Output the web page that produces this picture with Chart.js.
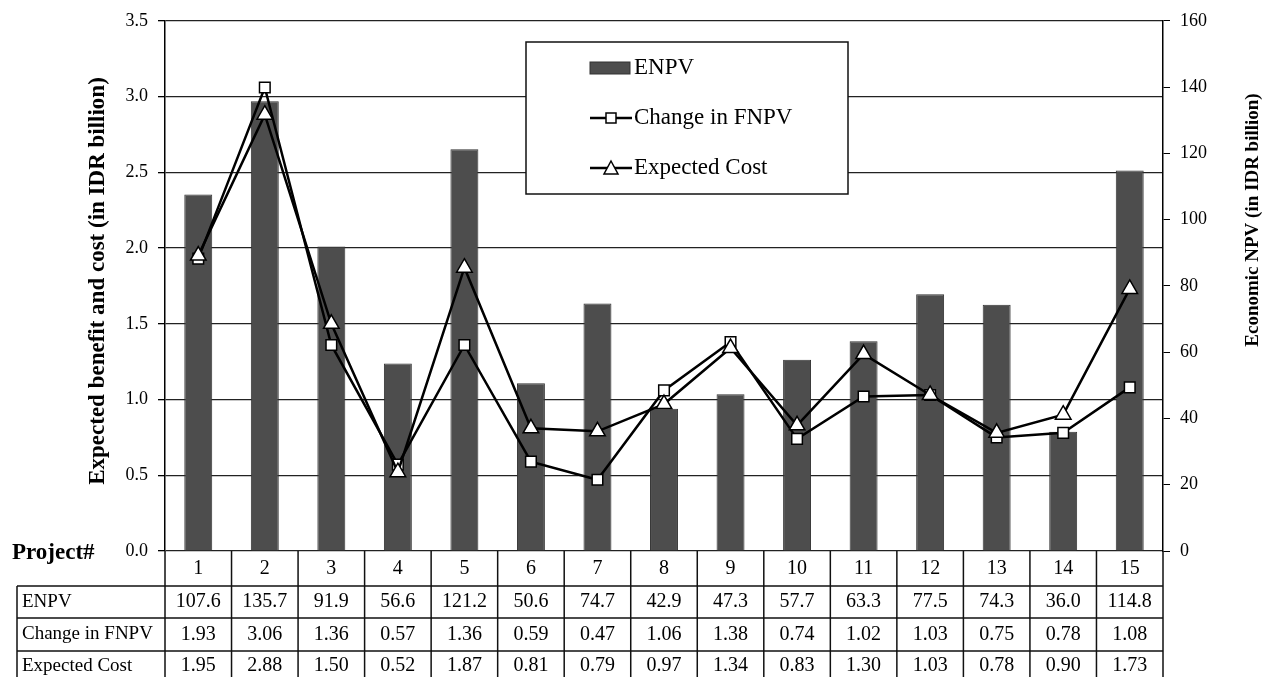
<!DOCTYPE html>
<html lang="en">
<head>
  <meta charset="UTF-8">
  <title>ENPV, Change in FNPV and Expected Cost by Project</title>
  <script src="https://cdn.jsdelivr.net/npm/chart.js"></script>
  <style>
    html, body { margin: 0; padding: 0; background: #fff; }
    #wrap { width: 1273px; height: 677px; position: relative; }
  </style>
</head>
<body>
  <div id="wrap"><canvas id="npvChart"></canvas></div>

  <script>
    // values
    const projects = ['1', '2', '3', '4', '5', '6', '7', '8', '9', '10', '11', '12', '13', '14', '15'];
    const enpv = [107.6, 135.7, 91.9, 56.6, 121.2, 50.6, 74.7, 42.9, 47.3, 57.7, 63.3, 77.5, 74.3, 36.0, 114.8];
    const changeFnpv = [1.93, 3.06, 1.36, 0.57, 1.36, 0.59, 0.47, 1.06, 1.38, 0.74, 1.02, 1.03, 0.75, 0.78, 1.08];
    const expectedCost = [1.95, 2.88, 1.50, 0.52, 1.87, 0.81, 0.79, 0.97, 1.34, 0.83, 1.30, 1.03, 0.78, 0.90, 1.73];
    const tableRows = [
      { label: 'ENPV', values: enpv, fmt: v => v.toFixed(1) },
      { label: 'Change in FNPV', values: changeFnpv, fmt: v => v.toFixed(2) },
      { label: 'Expected Cost', values: expectedCost, fmt: v => v.toFixed(2) }
    ];

    const SERIF = "'Liberation Serif', 'DejaVu Serif', serif";
    Chart.defaults.font.family = SERIF;
    Chart.defaults.color = '#000';

    // titles, legend box and the data table are drawn here
    const extrasPlugin = {
      id: 'extras',
      afterDraw(chart) {
        const ctx = chart.ctx;
        const x = chart.scales.x;
        const area = chart.chartArea;
        const step = (area.right - area.left) / projects.length;
        ctx.save();

        // axis titles
        ctx.fillStyle = '#000';
        ctx.textAlign = 'center';
        ctx.textBaseline = 'middle';
        ctx.font = 'bold 23px ' + SERIF;
        ctx.save();
        ctx.translate(98, 281);
        ctx.rotate(-Math.PI / 2);
        ctx.fillText('Expected benefit and cost (in IDR billion)', 0, 0);
        ctx.restore();
        ctx.font = 'bold 19px ' + SERIF;
        ctx.save();
        ctx.translate(1253, 220);
        ctx.rotate(-Math.PI / 2);
        ctx.fillText('Economic NPV (in IDR billion)', 0, 0);
        ctx.restore();

        // legend
        const lx = 526, ly = 42, lw = 322, lh = 152;
        ctx.fillStyle = '#fff';
        ctx.fillRect(lx, ly, lw, lh);
        ctx.strokeStyle = '#111';
        ctx.lineWidth = 1.5;
        ctx.strokeRect(lx, ly, lw, lh);
        ctx.fillStyle = '#4d4d4d';
        ctx.fillRect(590, 62, 40, 12);
        ctx.strokeStyle = '#333';
        ctx.lineWidth = 1;
        ctx.strokeRect(590, 62, 40, 12);
        ctx.strokeStyle = '#000';
        ctx.lineWidth = 2.5;
        [118, 168].forEach(yy => {
          ctx.beginPath(); ctx.moveTo(590, yy); ctx.lineTo(632, yy); ctx.stroke();
        });
        ctx.lineWidth = 1.5;
        ctx.fillStyle = '#fff';
        ctx.fillRect(606, 113, 10, 10);
        ctx.strokeRect(606, 113, 10, 10);
        ctx.beginPath();
        ctx.moveTo(611, 161); ctx.lineTo(618, 174); ctx.lineTo(604, 174); ctx.closePath();
        ctx.fill(); ctx.stroke();
        ctx.fillStyle = '#000';
        ctx.textAlign = 'left';
        ctx.font = '23px ' + SERIF;
        ctx.fillText('ENPV', 634, 68);
        ctx.fillText('Change in FNPV', 634, 118);
        ctx.fillText('Expected Cost', 634, 168);

        // data table
        const top = area.bottom, rowY = [586, 618, 651], bottom = chart.height;
        ctx.strokeStyle = '#111';
        ctx.lineWidth = 1.5;
        ctx.beginPath();
        for (let i = 0; i <= projects.length; i++) {
          const bx = area.left + i * step;
          ctx.moveTo(bx, top); ctx.lineTo(bx, bottom);
        }
        ctx.moveTo(17, rowY[0]); ctx.lineTo(17, bottom);
        rowY.forEach(yy => { ctx.moveTo(17, yy); ctx.lineTo(area.right, yy); });
        ctx.stroke();

        ctx.font = '20px ' + SERIF;
        ctx.textAlign = 'center';
        projects.forEach((p, i) => ctx.fillText(p, x.getPixelForValue(i), 569));
        const centers = [602, 634.5, 666];
        tableRows.forEach((row, r) => {
          ctx.textAlign = 'left';
          ctx.font = '19px ' + SERIF;
          ctx.fillText(row.label, 22, centers[r]);
          ctx.textAlign = 'center';
          ctx.font = '20px ' + SERIF;
          row.values.forEach((v, i) => ctx.fillText(row.fmt(v), x.getPixelForValue(i), centers[r]));
        });

        ctx.textAlign = 'left';
        ctx.font = 'bold 23px ' + SERIF;
        ctx.fillText('Project#', 12, 553);
        ctx.restore();
      }
    };

    new Chart(document.getElementById('npvChart'), {
      type: 'bar',
      data: {
        labels: projects,
        datasets: [
          {
            type: 'line',
            label: 'Change in FNPV',
            data: changeFnpv,
            yAxisID: 'y',
            borderColor: '#000',
            borderWidth: 2.5,
            pointStyle: 'rect',
            pointRadius: 7.5,
            pointBackgroundColor: '#fff',
            pointBorderColor: '#000',
            pointBorderWidth: 1.5,
            tension: 0,
            order: 1
          },
          {
            type: 'line',
            label: 'Expected Cost',
            data: expectedCost,
            yAxisID: 'y',
            borderColor: '#000',
            borderWidth: 2.5,
            pointStyle: 'triangle',
            pointRadius: 9,
            pointBackgroundColor: '#fff',
            pointBorderColor: '#000',
            pointBorderWidth: 1.5,
            tension: 0,
            order: 0
          },
          {
            label: 'ENPV',
            data: enpv,
            yAxisID: 'y1',
            backgroundColor: '#4d4d4d',
            borderColor: '#333',
            borderWidth: 1,
            barPercentage: 0.42,
            categoryPercentage: 1,
            order: 2
          }
        ]
      },
      options: {
        responsive: true,
        maintainAspectRatio: false,
        animation: false,
        layout: { padding: { left: 80, right: 0, top: 20, bottom: 126 } },
        plugins: { legend: { display: false }, tooltip: { enabled: false } },
        scales: {
          x: { display: false },
          y: {
            position: 'left',
            min: 0,
            max: 3.5,
            ticks: { stepSize: 0.5, padding: 10, font: { size: 18 }, callback: v => v.toFixed(1) },
            grid: { color: '#222', lineWidth: 1.3, tickLength: 7, tickColor: '#000' },
            border: { color: '#000', width: 1.5 },
            afterFit(scale) { scale.width = 85; }
          },
          y1: {
            position: 'right',
            min: 0,
            max: 160,
            ticks: { stepSize: 20, padding: 10, font: { size: 18 } },
            grid: { drawOnChartArea: false, tickLength: 7, tickColor: '#000' },
            border: { color: '#000', width: 1.5 },
            afterFit(scale) { scale.width = 110; }
          }
        }
      },
      plugins: [extrasPlugin]
    });
  </script>
</body>
</html>
